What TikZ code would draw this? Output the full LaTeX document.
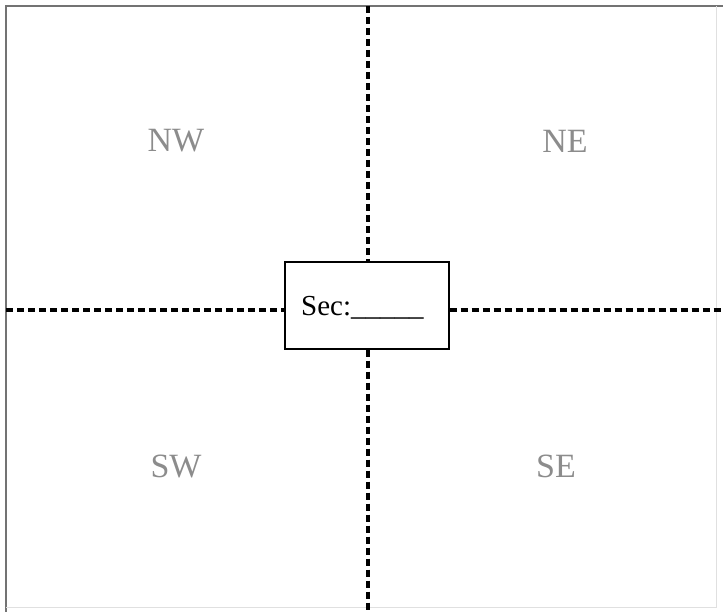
\documentclass[tikz,border=0pt]{standalone}
\usepackage{fontspec}
\setmainfont{Liberation Serif}
\begin{document}
\begin{tikzpicture}[x=1pt,y=-1pt,
  divider/.style={line width=3.4pt, dash pattern=on 7pt off 4pt, black},
  quad/.style={text=black!45, font=\fontsize{34}{34}\selectfont},
  secbox/.style={draw, line width=1.4pt, minimum width=164pt, minimum height=87pt, inner sep=0pt},
  frame/.style={line width=2.2pt, draw=black!55}]
\useasboundingbox (0,0) rectangle (723,612);
\fill[white] (0,0) rectangle (723,612);
\draw[frame] (6,612) -- (6,6) -- (723,6);
\draw[line width=0.8pt, draw=black!12] (716,6) -- (716,607) -- (6,607);
\node[secbox] (sec) at (367,305.5) {};
\node[anchor=base west, font=\fontsize{29}{29}\selectfont, inner sep=0pt] (lab) at (301,316) {Sec:\_\_\_\_\_};
\coordinate (top) at (368,6);
\coordinate (bot) at (368,612);
\coordinate (left) at (6,310);
\coordinate (right) at (723,310);
\draw[divider] (top) -- (top |- sec.north);
\draw[divider] (bot |- sec.south) -- (bot);
\draw[divider] (left) -- (left -| sec.west);
\draw[divider] (right -| sec.east) -- (right);
\node[quad] (nw) at (176,141) {NW};
\node[quad] (ne) at (565,141) {NE};
\node[quad] (sw) at (176,466) {SW};
\node[quad] (se) at (556,466) {SE};
\end{tikzpicture}
\end{document}
